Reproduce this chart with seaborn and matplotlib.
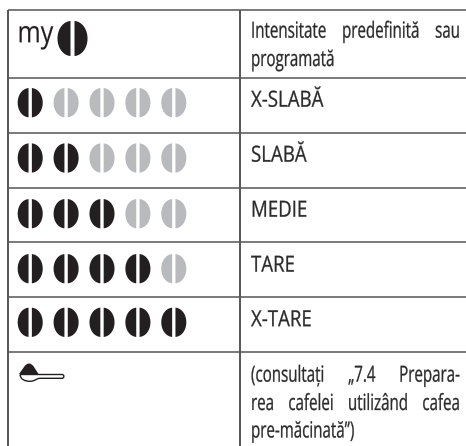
import numpy as np
import pandas as pd
import matplotlib
matplotlib.use("Agg")
import matplotlib.pyplot as plt
import seaborn as sns
from matplotlib.path import Path
from matplotlib.patches import PathPatch
from matplotlib.patheffects import AbstractPathEffect
from matplotlib.transforms import Affine2D, Bbox

# Dane tabeli
intensity_labels = ["X-SLABĂ", "SLABĂ", "MEDIE", "TARE", "X-TARE"]
dark_beans = [1, 2, 3, 4, 5]
total_beans = 5
first_row_lines = ["Intensitate predefinită sau", "programată"]
last_row_lines = ["(consultați „7.4 Prepara-", "rea cafelei utilizând cafea", "pre-măcinată”)"]

DARK = "#231f20"
GREY = "#b9babd"
LINE = "#555555"
TEXT = "#2a2a2a"
FONT = "Open Sans"
FS = 16
SQUEEZE = 0.68
CAPS_SQUEEZE = 0.84

sns.set_theme(style="white")
plt.rcParams["font.family"] = [FONT, "DejaVu Sans"]

fig = plt.figure(figsize=(4.66, 4.46), dpi=100)
ax = fig.add_axes([0, 0, 1, 1])
ax.set_xlim(0, 466)
ax.set_ylim(446, 0)
ax.axis("off")


# Zwężanie tekstu (brak czcionki condensed)
class Squeeze(AbstractPathEffect):
    def __init__(self, sx, extra=0.2):
        super().__init__()
        self.sx = sx
        self.extra = extra

    def draw_path(self, renderer, gc, tpath, affine, rgbFace=None):
        gc0 = renderer.new_gc()
        gc0.copy_properties(gc)
        gc0.set_linewidth(self.extra)
        gc0.set_foreground(rgbFace)
        renderer.draw_path(gc0, tpath, Affine2D().scale(self.sx, 1) + affine, rgbFace)
        gc0.restore()


def put_text(x, y, s, size=FS, sx=SQUEEZE, color=TEXT, extra=0.2):
    t = ax.text(x, y, s, fontsize=size, color=color, va="baseline", ha="left")
    t.set_path_effects([Squeeze(sx, extra)])
    full_extent = t.get_window_extent

    # zakres tekstu po zwężeniu
    def squeezed_extent(renderer=None, dpi=None):
        b = full_extent(renderer, dpi)
        return Bbox.from_extents(b.x0, b.y0, b.x0 + b.width * sx, b.y1)

    t.get_window_extent = squeezed_extent
    return t


# Ziarno kawy jako własny marker
def bean_marker(gap=0.11):
    t = np.linspace(0, np.pi, 60)
    x = 0.85 * np.sin(t) ** 0.9
    y = np.cos(t)
    keep = x >= gap
    xr, yr = x[keep], y[keep]
    right = np.column_stack([xr, yr])
    left = np.column_stack([-xr, yr])
    verts = np.vstack([right, right[:1], left, left[:1]])
    n = len(xr)
    codes = ([Path.MOVETO] + [Path.LINETO] * (n - 1) + [Path.CLOSEPOLY]) * 2
    return Path(verts, codes)


# Linie tabeli
row_lines = [9.8, 77.5, 132.6, 187.7, 242.4, 297.4, 352.4]
for y in row_lines:
    ax.plot([8, 466], [y, y], color=LINE, lw=1.1, solid_capstyle="butt")
ax.plot([8, 8], [9.8, 446], color=LINE, lw=1.4, solid_capstyle="butt")
ax.plot([239.7, 239.7], [9.8, 446], color=LINE, lw=1.4, solid_capstyle="butt")

# Ziarna w wierszach
bean_row_y = [102.7, 158, 213.7, 268.7, 322.3]
label_base_y = [106.7, 161.7, 216.7, 271.7, 326.2]
rows = []
for row, n_dark in enumerate(dark_beans):
    for col in range(total_beans):
        rows.append({"col": col, "row": row, "state": "on" if col < n_dark else "off"})
beans = pd.DataFrame(rows)
beans["x"] = 30.2 + beans["col"] * 35.9
beans["y"] = beans["row"].map(lambda r: bean_row_y[r])
sns.scatterplot(data=beans, x="x", y="y", hue="state", palette={"on": DARK, "off": GREY},
                marker=bean_marker(), s=445, linewidth=0, legend=False, ax=ax)
ax.set_xlabel("")
ax.set_ylabel("")

# Nagłówek "my" + duże ziarno
put_text(17.5, 42.3, "my", size=21.5, sx=0.84, color=DARK, extra=0.1)
ax.scatter([72], [38], marker=bean_marker(0.09), s=640, color=DARK, linewidth=0)


# Tekst wyjustowany
def justified(line, y, x0=251, x1=460):
    words = line.split(" ")
    r = fig.canvas.get_renderer()
    items = [put_text(x0, y, w) for w in words]
    widths = [t.get_window_extent(r).width for t in items]
    gap = (x1 - x0 - sum(widths)) / (len(words) - 1)
    x = x0
    for t, w in zip(items, widths):
        t.set_x(x)
        x += w + gap


justified(first_row_lines[0], 37.7)
put_text(251, 66, first_row_lines[1])
for label, y in zip(intensity_labels, label_base_y):
    put_text(251, y, label, sx=CAPS_SQUEEZE)
justified(last_row_lines[0], 381.7)
justified(last_row_lines[1], 410)
put_text(251, 437.5, last_row_lines[2])

# Łyżeczka
mound = Path([(19, 374), (24, 367), (26, 363.5), (29, 363.5), (32, 363.5), (34, 367), (38.5, 374), (19, 374)],
             [Path.MOVETO, Path.LINETO, Path.CURVE3, Path.CURVE3, Path.CURVE3, Path.CURVE3, Path.LINETO, Path.CLOSEPOLY])
ax.add_patch(PathPatch(mound, facecolor=DARK, edgecolor="none"))
spoon = Path([(20, 374.5), (20.5, 379.5), (25, 381.3), (30, 381.3), (35, 381.3), (36.5, 378.3), (40, 378.3), (62, 378.3),
              (64.5, 378.3), (64.5, 374.5), (62, 374.5), (20, 374.5)],
             [Path.MOVETO, Path.CURVE4, Path.CURVE4, Path.CURVE4, Path.CURVE4, Path.CURVE4, Path.CURVE4, Path.LINETO,
              Path.CURVE4, Path.CURVE4, Path.CURVE4, Path.LINETO])
ax.add_patch(PathPatch(spoon, facecolor="white", edgecolor=DARK, lw=1.0))

fig.savefig("out.png", dpi=100)
